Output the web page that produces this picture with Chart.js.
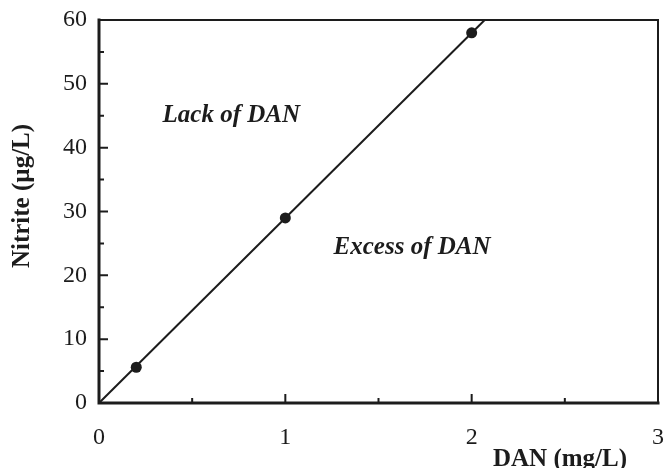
<!DOCTYPE html>
<html lang="en">
<head>
    <meta charset="UTF-8">
    <title>Nitrite vs DAN</title>
    <script src="https://cdn.jsdelivr.net/npm/chart.js"></script>
    <style>
        html, body { margin: 0; padding: 0; background: #fff; }
        .chart-container { width: 664px; height: 468px; }
    </style>
</head>
<body>
    <div class="chart-container">
        <canvas id="nitriteChart"></canvas>
    </div>

    <script>
        // measured points
        var danValues = [0.2, 1, 2];
        var nitriteValues = [5.6, 29, 58];

        var lineDan = [0, 2.07];
        var lineNitrite = [0, 60];

        var xTickLabels = [0, 1, 2, 3];
        var xMinorTicks = [0.5, 1.5, 2.5];
        var yTickLabels = [0, 10, 20, 30, 40, 50, 60];
        var yMinorTicks = [5, 15, 25, 35, 45, 55];

        var xTitle = 'DAN (mg/L)';
        var yTitle = 'Nitrite (\u00b5g/L)';
        var regionLabels = ['Lack of DAN', 'Excess of DAN'];
        var regionPos = [[0.71, 45.1], [1.68, 24.4]];

        var serif = '"Liberation Serif", "Times New Roman", serif';
        var ink = '#1c1c1c';

        function toPoints(xs, ys) {
            return xs.map(function (x, i) { return { x: x, y: ys[i] }; });
        }

        // frame, inward ticks, titles and region labels
        var framePlugin = {
            id: 'frame',
            afterDraw: function (chart) {
                var ctx = chart.ctx;
                var a = chart.chartArea;
                var xs = chart.scales.x;
                var ys = chart.scales.y;
                ctx.save();
                ctx.strokeStyle = ink;
                ctx.lineCap = 'square';

                // top and right edges are thinner
                ctx.lineWidth = 2;
                ctx.beginPath();
                ctx.moveTo(a.left, a.top);
                ctx.lineTo(a.right, a.top);
                ctx.lineTo(a.right, a.bottom);
                ctx.stroke();

                ctx.lineWidth = 3;
                ctx.beginPath();
                ctx.moveTo(a.left, a.top);
                ctx.lineTo(a.left, a.bottom);
                ctx.lineTo(a.right, a.bottom);
                ctx.stroke();

                ctx.lineWidth = 2;
                ctx.lineCap = 'butt';
                ctx.beginPath();
                xTickLabels.forEach(function (v) {
                    var px = xs.getPixelForValue(v);
                    ctx.moveTo(px, a.bottom);
                    ctx.lineTo(px, a.bottom - 9);
                });
                xMinorTicks.forEach(function (v) {
                    var px = xs.getPixelForValue(v);
                    ctx.moveTo(px, a.bottom);
                    ctx.lineTo(px, a.bottom - 5);
                });
                yTickLabels.forEach(function (v) {
                    var py = ys.getPixelForValue(v);
                    ctx.moveTo(a.left, py);
                    ctx.lineTo(a.left + 9, py);
                });
                yMinorTicks.forEach(function (v) {
                    var py = ys.getPixelForValue(v);
                    ctx.moveTo(a.left, py);
                    ctx.lineTo(a.left + 5, py);
                });
                ctx.stroke();

                ctx.fillStyle = ink;
                ctx.textBaseline = 'middle';

                ctx.font = 'bold 25px ' + serif;
                ctx.textAlign = 'right';
                ctx.fillText(xTitle, a.right - 31, 460);

                ctx.save();
                ctx.translate(23, 196);
                ctx.rotate(-Math.PI / 2);
                ctx.textAlign = 'center';
                ctx.font = 'bold 25px ' + serif;
                ctx.fillText(yTitle, 0, 0);
                ctx.restore();

                ctx.font = 'italic bold 25px ' + serif;
                ctx.textAlign = 'center';
                regionLabels.forEach(function (t, i) {
                    ctx.fillText(t, xs.getPixelForValue(regionPos[i][0]), ys.getPixelForValue(regionPos[i][1]));
                });
                ctx.restore();
            }
        };

        var ctx = document.getElementById('nitriteChart').getContext('2d');
        var nitriteChart = new Chart(ctx, {
            type: 'scatter',
            data: {
                datasets: [{
                    label: 'Fit',
                    data: toPoints(lineDan, lineNitrite),
                    showLine: true,
                    borderColor: ink,
                    borderWidth: 2,
                    pointRadius: 0,
                    clip: 3
                }, {
                    label: 'Nitrite',
                    data: toPoints(danValues, nitriteValues),
                    backgroundColor: ink,
                    borderColor: ink,
                    pointRadius: 5.5,
                    pointBorderWidth: 0
                }]
            },
            options: {
                responsive: true,
                maintainAspectRatio: false,
                animation: false,
                layout: { padding: { top: 20, right: 6 } },
                plugins: {
                    legend: { display: false },
                    tooltip: { enabled: false }
                },
                scales: {
                    x: {
                        type: 'linear',
                        min: 0,
                        max: 3,
                        afterBuildTicks: function (s) {
                            s.ticks = xTickLabels.map(function (v) { return { value: v }; });
                        },
                        afterFit: function (s) {
                            s.height = 65;
                            s.paddingLeft = 0;
                            s.paddingRight = 0;
                        },
                        grid: { display: false, drawTicks: false },
                        border: { display: false },
                        ticks: {
                            color: ink,
                            padding: 20,
                            maxRotation: 0,
                            font: { family: serif, size: 24 }
                        }
                    },
                    y: {
                        type: 'linear',
                        min: 0,
                        max: 60,
                        afterBuildTicks: function (s) {
                            s.ticks = yTickLabels.map(function (v) { return { value: v }; });
                        },
                        afterFit: function (s) {
                            s.width = 99;
                            s.paddingTop = 0;
                            s.paddingBottom = 0;
                        },
                        grid: { display: false, drawTicks: false },
                        border: { display: false },
                        ticks: {
                            color: ink,
                            padding: 12,
                            font: { family: serif, size: 24 }
                        }
                    }
                }
            },
            plugins: [framePlugin]
        });
    </script>
</body>
</html>
